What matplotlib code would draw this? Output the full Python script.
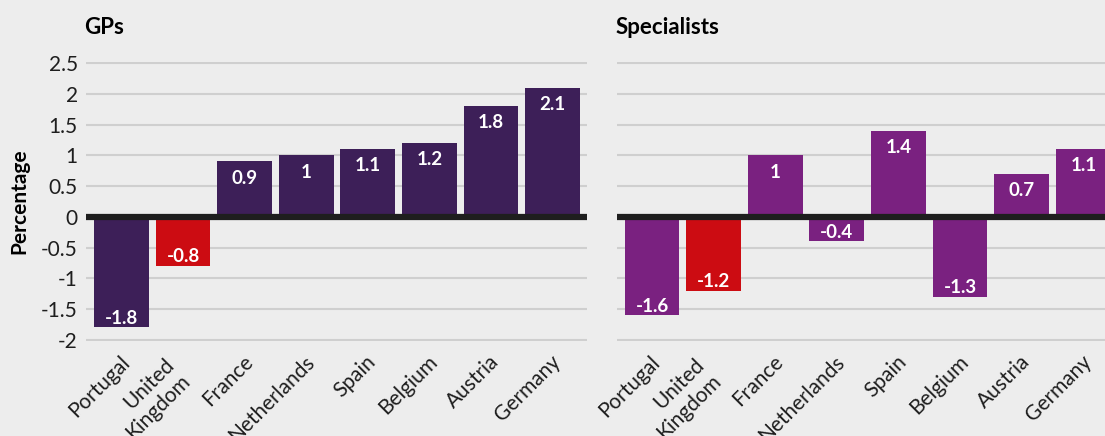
import numpy as np
import matplotlib.pyplot as plt
from matplotlib.transforms import ScaledTranslation

plt.rcParams['font.family'] = ['Lato', 'DejaVu Sans']

countries = ["Portugal", "United\nKingdom", "France", "Netherlands",
             "Spain", "Belgium", "Austria", "Germany"]
gps = [-1.8, -0.8, 0.9, 1.0, 1.1, 1.2, 1.8, 2.1]
specialists = [-1.6, -1.2, 1.0, -0.4, 1.4, -1.3, 0.7, 1.1]
yticks = [-2, -1.5, -1, -0.5, 0, 0.5, 1, 1.5, 2, 2.5]

bg = "#ededed"
uk_red = "#cc0c12"


def fmt(v):
    return "%g" % v


def panel(fig, ax, vals, colour, title, show_y):
    x = np.arange(len(countries))
    cols = [uk_red if c.startswith("United") else colour for c in countries]
    ax.set_facecolor(bg)
    ax.set_axisbelow(True)
    ax.bar(x, vals, width=0.89, color=cols, zorder=2)
    for xi, v in zip(x, vals):
        off = -12 if v > 0 else 6.5
        ax.annotate(fmt(v), (xi, v), xytext=(0, off), textcoords="offset points",
                    ha="center", va="center", color="white",
                    fontsize=13.5, fontweight="bold", zorder=4)
    ax.axhline(0, color="#1e1e1e", lw=4.5, zorder=3)
    ax.set_xlim(-0.576, 7.557)
    ax.set_ylim(-2.02, 2.52)
    ax.set_yticks(yticks)
    ax.yaxis.grid(True, color="#cfcfcf", lw=1.5)
    for s in ax.spines.values():
        s.set_visible(False)
    ax.tick_params(length=0, labelsize=15, colors="#1e1e1e", pad=6)
    ax.tick_params(axis="x", pad=0)
    if show_y:
        ax.set_yticklabels([fmt(t) for t in yticks])
    else:
        ax.set_yticklabels([])
    ax.set_xticks(x)
    labels = ax.set_xticklabels(countries, rotation=45, ha="right", va="center",
                                rotation_mode="anchor", multialignment="right",
                                fontsize=15)
    # nudge the rotated country names so their ends sit just under each bar
    for lab in labels:
        dx, dy = 5, -18
        if "\n" in lab.get_text():
            dx, dy = -4, -29
        lab.set_transform(lab.get_transform() +
                          ScaledTranslation(dx / 100, dy / 100, fig.dpi_scale_trans))
    ax.set_title(title, loc="left", fontsize=16, fontweight="bold",
                 x=-0.003, pad=20)


fig = plt.figure(figsize=(11.05, 4.36), dpi=100, facecolor=bg)
ax1 = fig.add_axes([0.0778, 0.218, 0.4534, 0.640])
ax2 = fig.add_axes([0.558, 0.218, 0.4534, 0.640])
panel(fig, ax1, gps, "#3d1f58", "GPs", True)
panel(fig, ax2, specialists, "#7a2180", "Specialists", False)
ax1.set_ylabel("Percentage", fontsize=15, fontweight="bold", labelpad=8)

fig.savefig("out.png", dpi=100, facecolor=bg)
